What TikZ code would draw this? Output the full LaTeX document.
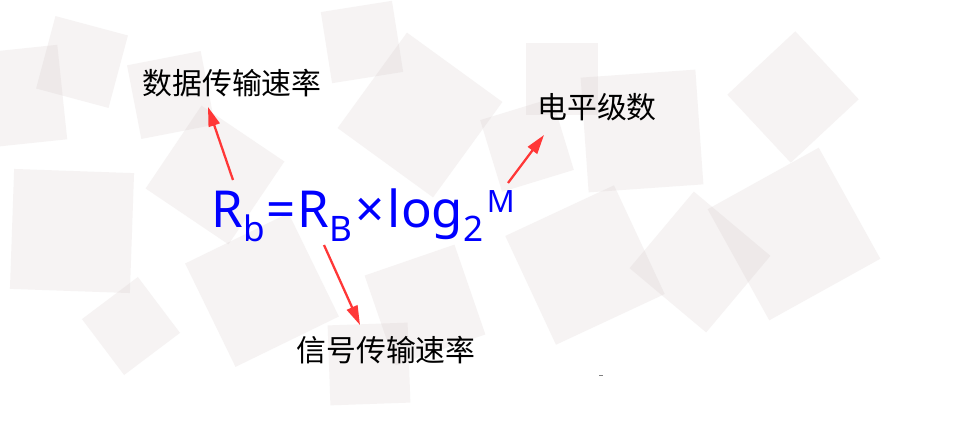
\documentclass[tikz,border=0pt]{standalone}
\usepackage{fontspec}
\setmainfont{Noto Sans}
\newfontfamily\cjk{Noto Sans CJK SC}
\usetikzlibrary{arrows.meta}
\definecolor{tilegray}{RGB}{200,185,185}
\definecolor{formblue}{RGB}{0,0,255}
\definecolor{arrowred}{RGB}{255,55,55}
\newcommand{\subsz}{\fontsize{20}{20}\selectfont}
\newcommand{\supsz}{\fontsize{17.5}{18}\selectfont}
\begin{document}
\begin{tikzpicture}
  [x=0.02cm, y=-0.02cm,
   tile/.style={fill=tilegray, fill opacity=0.16},
   formula/.style={text=formblue, inner sep=0pt, anchor=base west, font=\fontsize{29}{30}\selectfont},
   label/.style={inner sep=0pt, font=\cjk\fontsize{17}{20}\selectfont},
   pointer/.style={draw=arrowred, line width=1.3pt, -{Triangle[length=11pt,width=6.5pt]}}]

  \useasboundingbox (0,0) rectangle (956,446);
  \fill[white] (0,0) rectangle (956,446);

  % Fondo de cuadrados
  \foreach \cx/\cy/\s/\a in {82/62/75/-15, 15/97/95/6, 171/95/75/11, 215/175/100/-34,
      72/231/120/-2, 131/326/70/37, 262/290/115/26, 362/42/72/9, 420/115/118/-36,
      425/305/95/19, 369/364/80/2, 562/79/72/0, 527/145/75/17, 585/265/120/25,
      642/131/115/4, 700/262/100/-40, 793/97/93/-47, 794/234/127/29}
    \fill[tile, shift={(\cx,\cy)}, rotate=\a] (-\s/2,-\s/2) rectangle (\s/2,\s/2);

  % Fórmula
  \node[formula] (rate) at (211,227)
    {R\lower8pt\hbox{\subsz b}\kern1pt=\kern1ptR\lower8pt\hbox{\subsz B}\kern2pt×\kern2ptlog\lower8pt\hbox{\subsz 2}\kern2pt\raise8.5pt\hbox{\supsz M}};

  % Etiquetas
  \node[label] (datarate) at (232,83) {数据传输速率};
  \node[label] (levels) at (597,107) {电平级数};
  \node[label] (symrate) at (386,350) {信号传输速率};

  % Flechas
  \coordinate (t1) at (233,180);
  \coordinate (h1) at (208,107);
  \coordinate (t2) at (324,245);
  \coordinate (h2) at (360,325);
  \coordinate (t3) at (508,183);
  \coordinate (h3) at (544,135);
  \foreach \from/\to in {t1/h1, t2/h2, t3/h3}
    \draw[pointer] (\from) -- (\to);

  \draw[gray, line width=0.4pt] (599,375) -- (603,375);
\end{tikzpicture}
\end{document}
